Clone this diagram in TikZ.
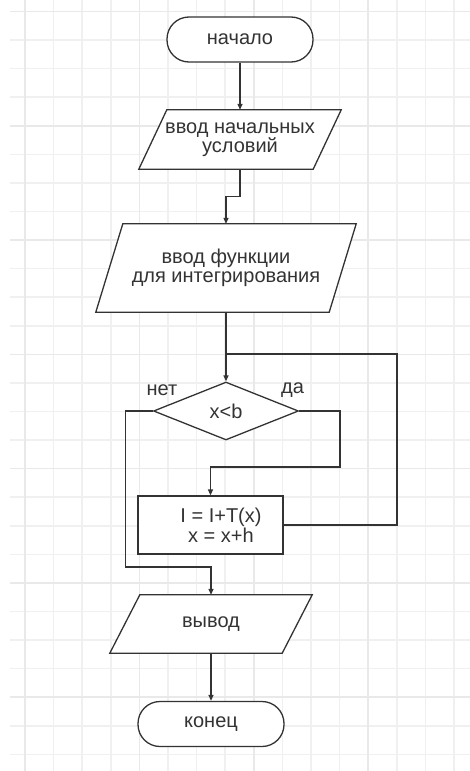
\documentclass[tikz,border=0pt]{standalone}
\usepackage{fontspec}
\setmainfont{Liberation Sans}
\usetikzlibrary{shapes.geometric,arrows.meta,calc}
\definecolor{ln}{HTML}{333333}
\definecolor{gridminor}{HTML}{F0F0F0}
\definecolor{gridmajor}{HTML}{E9E9E9}
\pgfdeclarelayer{gridlayer}
\pgfdeclarelayer{bg}
\pgfsetlayers{gridlayer,bg,main}
\newcommand\drawpar[2]{%
  \draw[outline] ($(#1.north west)+(#2,0)$) -- (#1.north east) -- ($(#1.south east)-(#2,0)$) -- (#1.south west) -- cycle;}
\begin{document}
\begin{tikzpicture}[x=1pt,y=-1pt,
  txt/.style={text=ln, font=\fontsize{20}{19.5}\selectfont, inner sep=0pt, align=center},
  outline/.style={draw=ln, line width=1.3pt, fill=white},
  term/.style={txt, outline, rectangle, rounded corners=22pt, minimum width=146pt, minimum height=45pt},
  iobox/.style={txt, rectangle, minimum height=#1},
  procbox/.style={txt, outline, rectangle, minimum width=145pt, minimum height=58pt},
  decbox/.style={txt, outline, diamond, minimum width=145pt, minimum height=58pt},
  conn/.style={draw=ln, line width=1.3pt},
  arr/.style={conn, -{Triangle[length=6pt,width=5pt]}},
  lbl/.style={txt}
]
\useasboundingbox (0,0) rectangle (470,771);
\begin{pgfonlayer}{gridlayer}
  \fill[white] (0,0) rectangle (470,771);
  \foreach \k in {0,...,26} {
    \pgfmathsetmacro\yy{11.5+28.57*\k}
    \draw[gridminor, line width=1.5pt] (10,\yy) -- (470,\yy);
  }
  \foreach \k in {0,...,15} {
    \pgfmathsetmacro\xx{25+28.6*\k}
    \draw[gridminor, line width=1.5pt] (\xx,0) -- (\xx,771);
  }
  \foreach \k in {0,4,...,24} {
    \pgfmathsetmacro\yy{11.5+28.57*\k}
    \draw[gridmajor, line width=1.5pt] (10,\yy) -- (470,\yy);
  }
  \foreach \k in {0,4,...,12} {
    \pgfmathsetmacro\xx{25+28.6*\k}
    \draw[gridmajor, line width=1.5pt] (\xx,0) -- (\xx,771);
  }
\end{pgfonlayer}

% nodes
\node[term] (start) at (240,39.5) {начало};
\node[iobox=59pt, minimum width=202pt] (in1) at (240,139.5) {ввод начальных\\условий};
\node[iobox=88pt, minimum width=260pt] (in2) at (226,268) {ввод функции\\для интегрирования};
\node[decbox] (dec) at (226,411) {x<b};
\node[lbl] (no) at (162,390) {нет};
\node[lbl] (yes) at (292.5,390) {да};
\node[procbox] (body) at (210.5,525) {\hspace*{21pt}I = I+T(x)\\\hspace*{21pt}x = x+h};
\node[iobox=58pt, minimum width=202pt] (out) at (211,624) {вывод};
\node[term] (end) at (211,724) {конец};

\begin{pgfonlayer}{bg}
  \drawpar{in1}{28}
  \drawpar{in2}{27}
  \drawpar{out}{30}
\end{pgfonlayer}

% helper coordinates
\coordinate (join) at (226,354);
\coordinate (loopc) at (397,354);
\coordinate (yesc) at (340,467);
\coordinate (noc) at (125.5,567);

% connectors
\draw[arr] (start.south) -- (in1.north);
\draw[arr] (in1.south) -- ++(0,27) -| (in2.north);
\draw[arr] (in2.south) -- (dec.north);
\draw[conn] (body.east) -| (loopc) -- (join);
\draw[arr] (dec.east) -| (yesc) -| (body.north);
\draw[arr] (dec.west) -| (noc) -| (out.north);
\draw[arr] (out.south) -- (end.north);
\end{tikzpicture}
\end{document}
